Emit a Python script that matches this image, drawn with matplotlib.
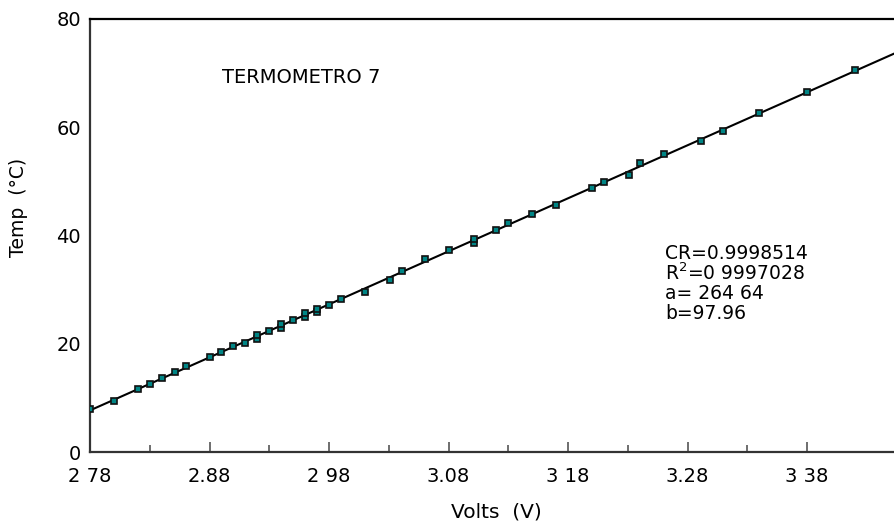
import numpy as np
import matplotlib
matplotlib.use("Agg")
import matplotlib.pyplot as plt
from matplotlib.ticker import FixedLocator

plt.rcParams["font.family"] = ["DejaVu Sans"]

# measured points (volts, temperature)
volts = [2.780, 2.800, 2.820, 2.830, 2.840, 2.851, 2.860, 2.880, 2.890, 2.900,
         2.910, 2.920, 2.920, 2.930, 2.940, 2.940, 2.950, 2.960, 2.960, 2.970,
         2.970, 2.980, 2.990, 3.010, 3.031, 3.041, 3.060, 3.080, 3.101, 3.101,
         3.120, 3.130, 3.150, 3.170, 3.200, 3.210, 3.231, 3.240, 3.260, 3.291,
         3.310, 3.340, 3.380, 3.420]
temps = [7.9, 9.5, 11.6, 12.6, 13.7, 14.7, 15.8, 17.5, 18.5, 19.5,
         20.1, 20.9, 21.6, 22.3, 23.0, 23.7, 24.3, 24.9, 25.6, 25.9,
         26.5, 27.2, 28.3, 29.6, 31.7, 33.5, 35.7, 37.3, 38.7, 39.3,
         41.0, 42.4, 44.0, 45.7, 48.7, 49.9, 51.2, 53.4, 55.1, 57.5,
         59.3, 62.6, 66.5, 70.5]

# fit parameters as printed on the chart
slope = 97.96
intercept = 264.64

major_ticks = [2.78, 2.88, 2.98, 3.08, 3.18, 3.28, 3.38]
major_labels = ["2 78", "2.88", "2 98", "3.08", "3 18", "3.28", "3 38"]
minor_ticks = [2.83, 2.93, 3.03, 3.13, 3.23, 3.33]
y_ticks = [0, 20, 40, 60, 80]

fit_lines = ["CR=0.9998514", "R$^{2}$=0 9997028", "a= 264 64", "b=97.96"]

fig = plt.figure(figsize=(8.94, 5.24), dpi=100)
ax = fig.add_axes([90 / 894, 72 / 524, 804 / 894, 433 / 524])

xmin, xmax = 2.78, 2.78 + 804 / 1195
xs = np.array([xmin, xmax])
ax.plot(xs, slope * xs - intercept, color="black", lw=1.5, zorder=2)
ax.plot(volts, temps, ls="none", marker="s", ms=4.6, mfc="#008585",
        mec="#111111", mew=1.2, zorder=3)

ax.set_xlim(xmin, xmax)
ax.set_ylim(0, 80)

ax.xaxis.set_major_locator(FixedLocator(major_ticks))
ax.set_xticklabels(major_labels)
ax.xaxis.set_minor_locator(FixedLocator(minor_ticks))
ax.tick_params(axis="x", which="major", direction="in", length=7, width=1.2,
               color="#555555", labelsize=14, pad=10.5)
ax.tick_params(axis="x", which="minor", direction="in", length=5, width=1.2,
               color="#555555")
ax.set_yticks(y_ticks)
ax.tick_params(axis="y", length=0, labelsize=14, pad=6.5)

for side in ["left", "bottom"]:
    ax.spines[side].set_linewidth(1.6)
    ax.spines[side].set_color("#333333")
ax.spines["top"].set_linewidth(1.6)
ax.spines["top"].set_color("black")
ax.spines["right"].set_visible(False)

ax.set_xlabel("Volts  (V)", fontsize=14.5, va="center")
ax.xaxis.set_label_coords(0.505, -0.139)
ax.set_ylabel("Temp  (°C)", fontsize=13.5, va="center")
ax.yaxis.set_label_coords(-0.089, 0.565)

ax.text(0.164, 0.864, "TERMOMETRO 7", transform=ax.transAxes,
        fontsize=14, va="center", ha="left")
for i, line in enumerate(fit_lines):
    ax.text(0.715, 0.458 - i * 0.046, line, transform=ax.transAxes,
            fontsize=13.5, va="center", ha="left")

fig.savefig("out.png", dpi=100)
